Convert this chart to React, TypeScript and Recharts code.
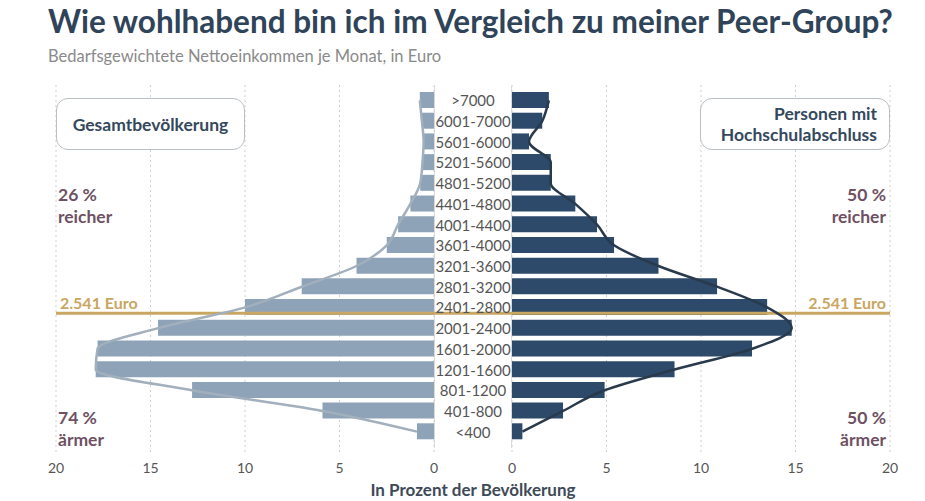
import React from "react";
import { ComposedChart, Bar, Line, XAxis, YAxis, CartesianGrid, ReferenceLine } from "recharts";

const categories = [">7000", "6001-7000", "5601-6000", "5201-5600", "4801-5200", "4401-4800", "4001-4400", "3601-4000", "3201-3600", "2801-3200", "2401-2800", "2001-2400", "1601-2000", "1201-1600", "801-1200", "401-800", "<400"];
const gesamt = [0.75, 0.64, 0.55, 0.61, 0.73, 1.25, 1.9, 2.5, 4.1, 7.0, 10.0, 14.6, 17.8, 17.9, 12.8, 5.9, 0.9];
const hochschule = [1.95, 1.6, 0.9, 2.05, 2.05, 3.35, 4.5, 5.4, 7.75, 10.85, 13.5, 14.8, 12.7, 8.6, 4.9, 2.7, 0.55];
const xTicks = [0, 5, 10, 15, 20];
const medianEuro = 2541;
const medianLabel = "2.541 Euro";
const medianBracket = { cat: "2401-2800", low: 2400, high: 2800 };
const leftShare = ["26 %", "74 %"];
const rightShare = ["50 %", "50 %"];

const data = categories.map((cat, i) => ({ cat, gesamt: gesamt[i], hochschule: hochschule[i] }));
// position of the median on the category scale (row 0 = ">7000" at the top)
const medianRow =
  categories.indexOf(medianBracket.cat) + 0.5 - (medianEuro - medianBracket.low) / (medianBracket.high - medianBracket.low);

const W = 925;
const H = 501;
const PLOT_TOP = 85;
const PLOT_BOTTOM = 455;
const X_AXIS_H = 30;
const LEFT_X0 = 56;
const LEFT_X1 = 434;
const GAP = 78;
const RIGHT_X1 = 890;
const PAD = { top: 5, bottom: 13 };
const unitsPerPx = 20 / (LEFT_X1 - LEFT_X0);
const FONT = "Lato, 'Open Sans', sans-serif";
const GOLD = "#c9a661";
const MAUVE = "#6e5163";
const tickStyle = { fontSize: 14, fill: "#555", fontFamily: FONT };

const CenterTick = (props: any) => (
  <text x={LEFT_X1 + GAP / 2} y={props.y} textAnchor="middle" dominantBaseline="central" fill="#555" fontSize={15} fontFamily={FONT}>
    {props.payload.value}
  </text>
);

const margin = (left: number, right: number) => ({ top: PLOT_TOP, bottom: H - PLOT_BOTTOM - X_AXIS_H, left, right });
const numDomain = [-0.5, categories.length - 0.5];

export default function App() {
  return (
    <div style={{ position: "absolute", left: 0, top: 0, width: W, height: H, background: "#fff", fontFamily: FONT, overflow: "hidden" }}>
      <div style={{ position: "absolute", left: 48, top: 2, fontSize: 31.5, fontWeight: 700, color: "#2f4359", whiteSpace: "nowrap" }}>
        Wie wohlhabend bin ich im Vergleich zu meiner Peer-Group?
      </div>
      <div style={{ position: "absolute", left: 48, top: 46, fontSize: 16.5, color: "#8a8a8a", whiteSpace: "nowrap" }}>
        Bedarfsgewichtete Nettoeinkommen je Monat, in Euro
      </div>
      <div style={{ position: "absolute", left: LEFT_X1, top: 86, width: GAP, height: 362, boxSizing: "border-box", borderLeft: "1px solid #dcdcdc", borderRight: "1px solid #dcdcdc", background: "#fff" }} />

      <div style={{ position: "absolute", left: 0, top: 0 }}>
        <ComposedChart width={W} height={H} layout="vertical" data={data} margin={margin(LEFT_X0, W - LEFT_X1)}>
          <CartesianGrid horizontal={false} strokeDasharray="2 3" stroke="#cfcfcf" yAxisId="cat" />
          <XAxis type="number" domain={[0, 20]} ticks={xTicks} reversed axisLine={false} tickLine={false} tickMargin={2} tick={tickStyle} height={X_AXIS_H} interval={0} />
          <YAxis yAxisId="cat" type="category" dataKey="cat" hide padding={PAD} />
          <YAxis yAxisId="num" type="number" domain={numDomain} allowDataOverflow hide padding={PAD} />
          <ReferenceLine
            yAxisId="num"
            segment={[{ x: -GAP * unitsPerPx, y: medianRow }, { x: 20, y: medianRow }]}
            ifOverflow="visible"
            stroke={GOLD}
            strokeWidth={3}
            label={{ value: medianLabel, position: "insideBottomLeft", offset: 4, fill: GOLD, fontSize: 16, fontWeight: 700, fontFamily: FONT }}
          />
          <Bar yAxisId="cat" dataKey="gesamt" fill="#8ea3b7" barSize={16} isAnimationActive={false} />
          <Line yAxisId="cat" dataKey="gesamt" type="monotone" stroke="#a2afbc" strokeWidth={2.5} dot={false} isAnimationActive={false} />
        </ComposedChart>
      </div>

      <div style={{ position: "absolute", left: 0, top: 0 }}>
        <ComposedChart width={W} height={H} layout="vertical" data={data} margin={margin(LEFT_X1, W - RIGHT_X1)}>
          <CartesianGrid horizontal={false} strokeDasharray="2 3" stroke="#cfcfcf" yAxisId="cat" />
          <XAxis type="number" domain={[0, 20]} ticks={xTicks} axisLine={false} tickLine={false} tickMargin={2} tick={tickStyle} height={X_AXIS_H} interval={0} />
          <YAxis yAxisId="cat" type="category" dataKey="cat" width={GAP} axisLine={false} tickLine={false} tick={<CenterTick />} interval={0} padding={PAD} />
          <YAxis yAxisId="num" type="number" domain={numDomain} allowDataOverflow hide padding={PAD} />
          <ReferenceLine
            yAxisId="num"
            y={medianRow}
            stroke={GOLD}
            strokeWidth={3}
            label={{ value: medianLabel, position: "insideBottomRight", offset: 4, fill: GOLD, fontSize: 16, fontWeight: 700, fontFamily: FONT }}
          />
          <Bar yAxisId="cat" dataKey="hochschule" fill="#2d4a6a" barSize={16} isAnimationActive={false} />
          <Line yAxisId="cat" dataKey="hochschule" type="monotone" stroke="#2a3a4d" strokeWidth={2.5} dot={false} isAnimationActive={false} />
        </ComposedChart>
      </div>

      <div style={{ position: "absolute", left: 56, top: 98, width: 189, height: 52, boxSizing: "border-box", border: "1.5px solid #b9bfc7", borderRadius: 12, background: "#fff", display: "flex", alignItems: "center", justifyContent: "center", fontSize: 17.5, fontWeight: 700, color: "#34495e" }}>
        Gesamtbevölkerung
      </div>
      <div style={{ position: "absolute", left: 700, top: 98, width: 190, height: 52, boxSizing: "border-box", border: "1.5px solid #b9bfc7", borderRadius: 12, background: "#fff", display: "flex", flexDirection: "column", alignItems: "flex-end", justifyContent: "center", paddingRight: 12, fontSize: 17.5, fontWeight: 700, color: "#34495e", lineHeight: "21px" }}>
        <span>Personen mit</span>
        <span>Hochschulabschluss</span>
      </div>

      <div style={{ position: "absolute", left: 58, top: 184, fontSize: 17.5, fontWeight: 700, color: MAUVE, lineHeight: "22px" }}>
        <div>{leftShare[0]}</div>
        <div>reicher</div>
      </div>
      <div style={{ position: "absolute", left: 58, top: 407, fontSize: 17.5, fontWeight: 700, color: MAUVE, lineHeight: "22px" }}>
        <div>{leftShare[1]}</div>
        <div>ärmer</div>
      </div>
      <div style={{ position: "absolute", right: 39, top: 184, fontSize: 17.5, fontWeight: 700, color: MAUVE, lineHeight: "22px", textAlign: "right" }}>
        <div>{rightShare[0]}</div>
        <div>reicher</div>
      </div>
      <div style={{ position: "absolute", right: 39, top: 407, fontSize: 17.5, fontWeight: 700, color: MAUVE, lineHeight: "22px", textAlign: "right" }}>
        <div>{rightShare[1]}</div>
        <div>ärmer</div>
      </div>

      <div style={{ position: "absolute", left: 0, width: 2 * (LEFT_X1 + GAP / 2), top: 479, textAlign: "center", fontSize: 17, fontWeight: 700, color: "#3e4a57" }}>
        In Prozent der Bevölkerung
      </div>
    </div>
  );
}
